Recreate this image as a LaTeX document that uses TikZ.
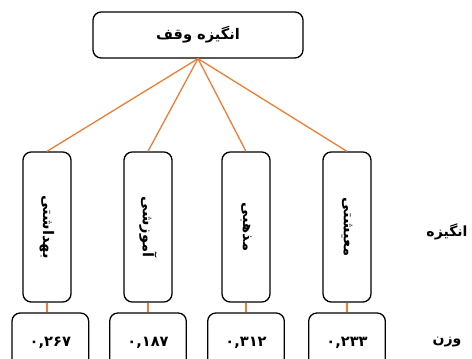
\documentclass[tikz,border=0pt]{standalone}
\usepackage{fontspec}
\usepackage{graphicx}
\TeXXeTstate=1
\newfontfamily\fafont[Script=Arabic]{DejaVu Sans}
\usetikzlibrary{positioning}
\definecolor{lineorange}{RGB}{237,125,49}

\tikzset{
  box/.style = {draw, line width=1.1pt, rounded corners=7pt, fill=white,
                font=\fafont\bfseries\fontsize{12.5}{14}\selectfont},
  factor/.style = {box, minimum width=1.44cm, minimum height=4.5cm},
  weight/.style = {box, minimum width=2.3cm, minimum height=1.8cm},
  link/.style = {draw=lineorange, line width=1.1pt},
  lbl/.style = {font=\fafont\bfseries\fontsize{12}{14}\selectfont}
}

\begin{document}
\begin{tikzpicture} [x=0.03cm, y=-0.03cm, node distance = 3.48cm, on grid]
\useasboundingbox (0,0) rectangle (472,358);
\clip (0,0) rectangle (472,358);

\node (motive) [box, minimum width=6.3cm, minimum height=1.38cm] at (198,35) {\beginR انگیزه وقف\endR};

\node (health) [factor] at (47,227)  {\rotatebox{-90}{\beginR بهداشتی\endR}};
\node (edu)    [factor] at (148,227) {\rotatebox{-90}{\beginR آموزشی\endR}};
\node (relig)  [factor] at (246,227) {\rotatebox{-90}{\beginR مذهبی\endR}};
\node (living) [factor] at (347,227) {\rotatebox{-90}{\beginR معیشتی\endR}};

\node (w1) [weight, below = of health, xshift=0.1cm] {۰,۲۶۷};
\node (w2) [weight, below = of edu]    {۰,۱۸۷};
\node (w3) [weight, below = of relig]  {۰,۳۱۲};
\node (w4) [weight, below = of living] {۰,۲۳۳};

\node (motivelbl) [lbl] at (447,232) {\beginR انگیزه\endR};
\node (weightlbl) [lbl] at (447,342) {\beginR وزن\endR};

\path [link]
    (motive.south) edge (health.north)
    (motive.south) edge (edu.north)
    (motive.south) edge (relig.north)
    (motive.south) edge (living.north)
    (health) edge (health |- w1.north)
    (edu) edge (w2)
    (relig) edge (w3)
    (living) edge (w4);
\end{tikzpicture}
\end{document}
